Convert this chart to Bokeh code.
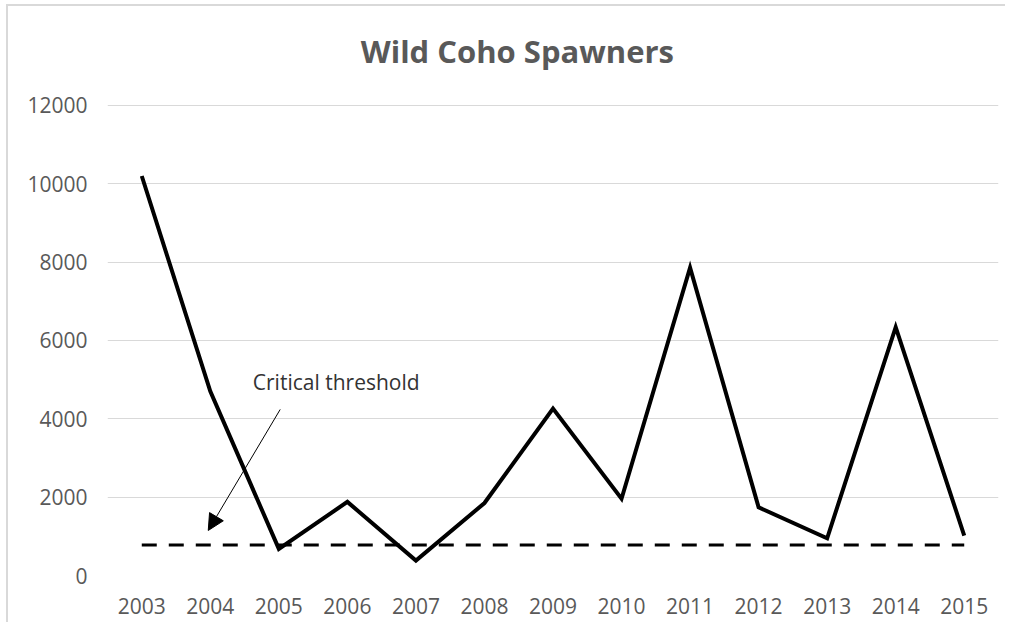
from bokeh.plotting import figure
from bokeh.models import Range1d, Label, Arrow, NormalHead, FixedTicker
from bokeh.embed import file_html
from bokeh.resources import INLINE

# ---- data ----
years = [2003, 2004, 2005, 2006, 2007, 2008, 2009, 2010, 2011, 2012, 2013, 2014, 2015]
spawners = [10200, 4700, 680, 1880, 380, 1850, 4260, 1960, 7860, 1740, 950, 6340, 1020]
threshold_value = 780
threshold = [threshold_value for _ in years]
y_ticks = [0, 2000, 4000, 6000, 8000, 10000, 12000]
title_text = "Wild Coho Spawners"
annotation_text = "Critical threshold"

FONT = "Open Sans"
GREY = "#595959"

# frame extends above the 12000 gridline so that the title can sit inside it
p = figure(width=999, height=618, output_backend="svg", toolbar_location=None,
           x_range=Range1d(2002.5, 2015.5), y_range=Range1d(0, 14425),
           min_border_left=99, min_border_right=9, min_border_top=4, min_border_bottom=49)
p.outline_line_color = None
p.background_fill_color = "white"
p.border_fill_color = "white"

# axes
p.xaxis.ticker = FixedTicker(ticks=years)
p.yaxis.ticker = FixedTicker(ticks=y_ticks)
for ax in (p.xaxis[0], p.yaxis[0]):
    ax.axis_line_color = None
    ax.major_tick_line_color = None
    ax.minor_tick_line_color = None
    ax.major_tick_in = 0
    ax.major_tick_out = 0
    ax.minor_tick_in = 0
    ax.minor_tick_out = 0
    ax.major_label_text_font = FONT
    ax.major_label_text_font_size = "21px"
    ax.major_label_text_color = GREY
p.yaxis.major_label_standoff = 20
p.xaxis.major_label_standoff = 22

p.xgrid.grid_line_color = None
p.ygrid.grid_line_color = "#d9d9d9"
p.ygrid.grid_line_width = 1

# threshold line
p.line(years, threshold, line_color="black", line_width=3, line_dash="15 12")
# main series
p.line(years, spawners, line_color="black", line_width=4, line_join="miter")

# annotation arrow and text
p.add_layout(Arrow(end=NormalHead(size=16, fill_color="black", line_color="black"),
                   x_start=2005.02, y_start=4240, x_end=2003.97, y_end=1150,
                   line_color="black", line_width=1))
p.add_layout(Label(x=2004.62, y=4930, text=annotation_text, text_font=FONT,
                   text_font_size="21px", text_color="#333333",
                   text_baseline="middle", text_align="left"))

# title
p.add_layout(Label(x=2008.48, y=13380, text=title_text,
                   text_font=FONT, text_font_size="31px", text_font_style="bold",
                   text_color=GREY, text_baseline="middle", text_align="center"))

# chart-area border (top and left)
p.styles = {"margin-left": "6px", "margin-top": "4px",
            "border-left": "2px solid #d9d9d9", "border-top": "2px solid #d9d9d9"}

open("out.html", "w").write(file_html(p, INLINE))
